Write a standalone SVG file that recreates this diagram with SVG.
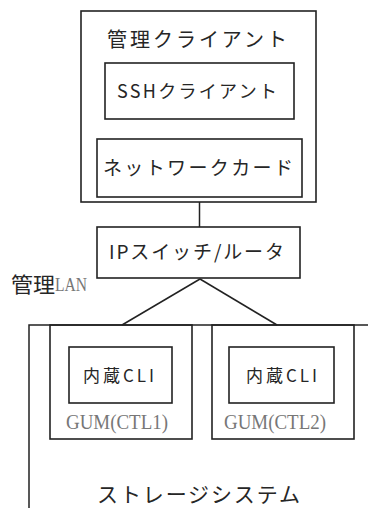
<svg xmlns="http://www.w3.org/2000/svg" width="368" height="508" viewBox="0 0 368 508">
<style>
.box{fill:none;stroke:#222;stroke-width:1.6}
.ln{fill:none;stroke:#222;stroke-width:1.5}
.jp{font-family:"Noto Sans CJK JP","DejaVu Sans",sans-serif;fill:#262626}
.sr{font-family:"Liberation Serif","Noto Serif CJK JP",serif;fill:#777}
</style>
<rect width="368" height="508" fill="#fff"/>
<g id="connectors">
<line class="ln" x1="199.5" y1="202" x2="199.5" y2="227"/>
<line class="ln" x1="200" y1="279" x2="122" y2="325"/>
<line class="ln" x1="200" y1="279" x2="277" y2="325"/>
</g>
<g id="kanri-client">
<rect class="box" x="81" y="11" width="235" height="191"/>
<text class="jp" x="107" y="47" font-size="20" textLength="180" lengthAdjust="spacing">管理クライアント</text>
</g>
<g id="ssh-client">
<rect class="box" x="105" y="63" width="189" height="56"/>
<text class="jp" x="117" y="98" font-size="18" textLength="160" lengthAdjust="spacing">SSHクライアント</text>
</g>
<g id="network-card">
<rect class="box" x="97" y="139" width="205" height="58"/>
<text class="jp" x="103" y="175" font-size="19" textLength="190" lengthAdjust="spacing">ネットワークカード</text>
</g>
<g id="ip-switch">
<rect class="box" x="97" y="227" width="203" height="51"/>
<text class="jp" x="109" y="259" font-size="19" textLength="175" lengthAdjust="spacing">IPスイッチ/ルータ</text>
</g>
<g id="kanri-lan">
<text class="jp" x="11" y="292" font-size="21" textLength="44" lengthAdjust="spacingAndGlyphs">管理</text>
<text class="sr" x="55" y="291" font-size="18" fill="#888" textLength="32" lengthAdjust="spacingAndGlyphs">LAN</text>
</g>
<g id="storage-system">
<polyline class="ln" points="368,325 29,325 29,508"/>
<text class="jp" x="97" y="502" font-size="21" textLength="203" lengthAdjust="spacing">ストレージシステム</text>
</g>
<g id="gum-ctl1">
<rect class="box" x="50" y="325" width="142" height="114"/>
<text class="sr" x="66" y="429" font-size="20" textLength="102" lengthAdjust="spacingAndGlyphs">GUM(CTL1)</text>
</g>
<g id="cli1">
<rect class="box" x="69" y="347" width="103" height="56"/>
<text class="jp" x="83" y="382" font-size="17" textLength="71" lengthAdjust="spacing">内蔵CLI</text>
</g>
<g id="gum-ctl2">
<rect class="box" x="212" y="325" width="142" height="114"/>
<text class="sr" x="224" y="429" font-size="20" textLength="102" lengthAdjust="spacingAndGlyphs">GUM(CTL2)</text>
</g>
<g id="cli2">
<rect class="box" x="229" y="347" width="105" height="56"/>
<text class="jp" x="246" y="382" font-size="17" textLength="71" lengthAdjust="spacing">内蔵CLI</text>
</g>
</svg>
